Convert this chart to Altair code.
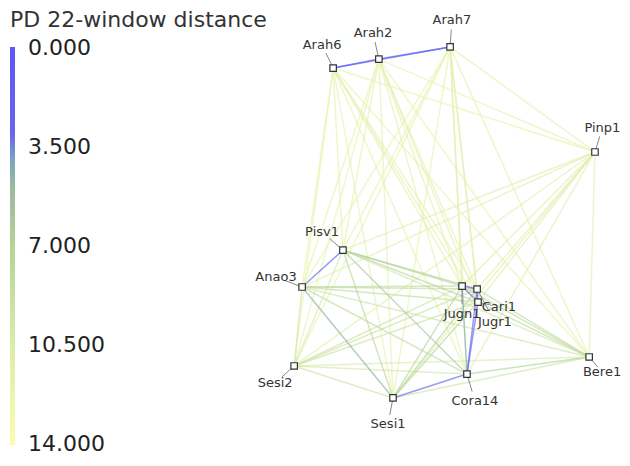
import altair as alt
import pandas as pd

# ---- data -------------------------------------------------------------
nodes = ["Arah6", "Arah2", "Arah7", "Pinp1", "Pisv1", "Anao3", "Jugn1",
         "Jugr1", "Cari1", "Sesi2", "Sesi1", "Cora14", "Bere1"]
node_x = [0.059, 0.208, 0.440, 0.912, 0.091, -0.042, 0.479,
          0.528, 0.531, -0.068, 0.254, 0.495, 0.893]
node_y = [0.733, 0.773, 0.827, 0.360, -0.076, -0.240, -0.236,
          -0.249, -0.307, -0.591, -0.733, -0.627, -0.551]
label_x = [0.023, 0.189, 0.446, 0.936, 0.023, -0.127, 0.479,
           0.586, 0.599, -0.130, 0.238, 0.521, 0.935]
label_y = [0.836, 0.889, 0.947, 0.467, 0.004, -0.196, -0.360,
           -0.396, -0.329, -0.667, -0.849, -0.747, -0.618]

# upper-triangle distance rows (node i to nodes i+1 ...)
dist_rows = [
    [0.6, 1.4, 11.8, 11.6, 11.9, 11.4, 11.6, 11.5, 12.0, 11.8, 11.7, 11.9],
    [0.8, 11.7, 11.5, 11.8, 11.3, 11.5, 11.4, 11.9, 11.6, 11.6, 11.8],
    [11.4, 11.7, 12.0, 11.2, 11.4, 11.3, 12.1, 11.9, 11.5, 11.6],
    [11.0, 11.3, 10.8, 11.0, 10.9, 11.2, 11.1, 11.0, 11.3],
    [2.0, 6.8, 7.0, 7.0, 10.0, 7.8, 6.2, 9.6],
    [7.8, 8.2, 8.0, 9.4, 4.4, 8.0, 9.5],
    [1.6, 2.2, 9.0, 7.2, 4.2, 8.0],
    [1.0, 9.2, 7.4, 2.6, 8.2],
    [9.1, 7.3, 2.0, 8.1],
    [9.3, 9.8, 10.2],
    [2.8, 9.4],
    [6.8],
]

legend_values = [0, 3.5, 7, 10.5, 14]
color_stops = [0, 3.2, 3.8, 4.6, 7, 10.5, 14]
color_range = ["#5858f6", "#6666ee", "#8a9cc4", "#9cb4a0", "#b4d498",
               "#dcecac", "#fcfcb0"]

# ---- tables -----------------------------------------------------------
edge_recs = []
for i, row in enumerate(dist_rows):
    for k, d in enumerate(row):
        j = i + 1 + k
        edge_recs.append({"x": node_x[i], "y": node_y[i],
                          "x2": node_x[j], "y2": node_y[j],
                          "dist": d, "neg": -d})
edges = pd.DataFrame(edge_recs).sort_values("dist", ascending=False)

node_df = pd.DataFrame({"name": nodes, "x": node_x, "y": node_y,
                        "lx": label_x, "ly": label_y})
node_df["sx"] = node_df["lx"] + 0.35 * (node_df["x"] - node_df["lx"])
node_df["sy"] = node_df["ly"] + 0.35 * (node_df["y"] - node_df["ly"])

# negated distance so that 0 sits at the top of the vertical gradient
neg_domain = [-v for v in color_stops][::-1]
neg_domain[0] -= 0.02
neg_domain[-1] += 0.02
neg_range = color_range[::-1]

xs = alt.Scale(domain=[-1, 1], nice=False, zero=False)
ys = alt.Scale(domain=[-1, 1], nice=False, zero=False)

edge_layer = alt.Chart(edges).mark_rule(strokeWidth=1.5, opacity=0.65).encode(
    x=alt.X("x:Q", scale=xs, axis=None),
    y=alt.Y("y:Q", scale=ys, axis=None),
    x2="x2:Q",
    y2="y2:Q",
    color=alt.Color(
        "neg:Q",
        scale=alt.Scale(domain=neg_domain, range=neg_range),
        legend=alt.Legend(
            title="PD 22-window distance",
            orient="none",
            legendX=2,
            legendY=2,
            direction="vertical",
            gradientLength=398,
            gradientThickness=5,
            gradientStrokeWidth=0,
            gradientOpacity=1,
            values=[-v for v in legend_values],
            labelExpr="format(abs(datum.value), '.3f')",
            titleFontSize=22,
            titleFontWeight="normal",
            titleFont="DejaVu Sans",
            titleColor="#333333",
            titlePadding=15,
            titleLimit=500,
            labelFontSize=22,
            labelFont="DejaVu Sans",
            labelColor="#222222",
            labelOffset=13,
            labelOverlap=False,
        ),
    ),
)

leader_layer = alt.Chart(node_df).mark_rule(strokeWidth=1, color="#888888").encode(
    x=alt.X("sx:Q", scale=xs, axis=None),
    y=alt.Y("sy:Q", scale=ys, axis=None),
    x2="x:Q",
    y2="y:Q",
)

node_layer = alt.Chart(node_df).mark_square(
    size=42, filled=True, fill="white", stroke="#333333", strokeWidth=1.2, opacity=1
).encode(
    x=alt.X("x:Q", scale=xs, axis=None),
    y=alt.Y("y:Q", scale=ys, axis=None),
)

text_layer = alt.Chart(node_df).mark_text(
    fontSize=13, font="DejaVu Sans", color="#333333"
).encode(
    x=alt.X("lx:Q", scale=xs, axis=None),
    y=alt.Y("ly:Q", scale=ys, axis=None),
    text="name:N",
)

chart = alt.layer(edge_layer, leader_layer, node_layer, text_layer).properties(
    width=614,
    height=450,
    padding={"left": 0, "top": 0, "right": 0, "bottom": 0},
    autosize=alt.AutoSizeParams(type="none"),
).configure_view(stroke=None)

chart.save("out.html", embed_options={"renderer": "svg", "actions": False})
